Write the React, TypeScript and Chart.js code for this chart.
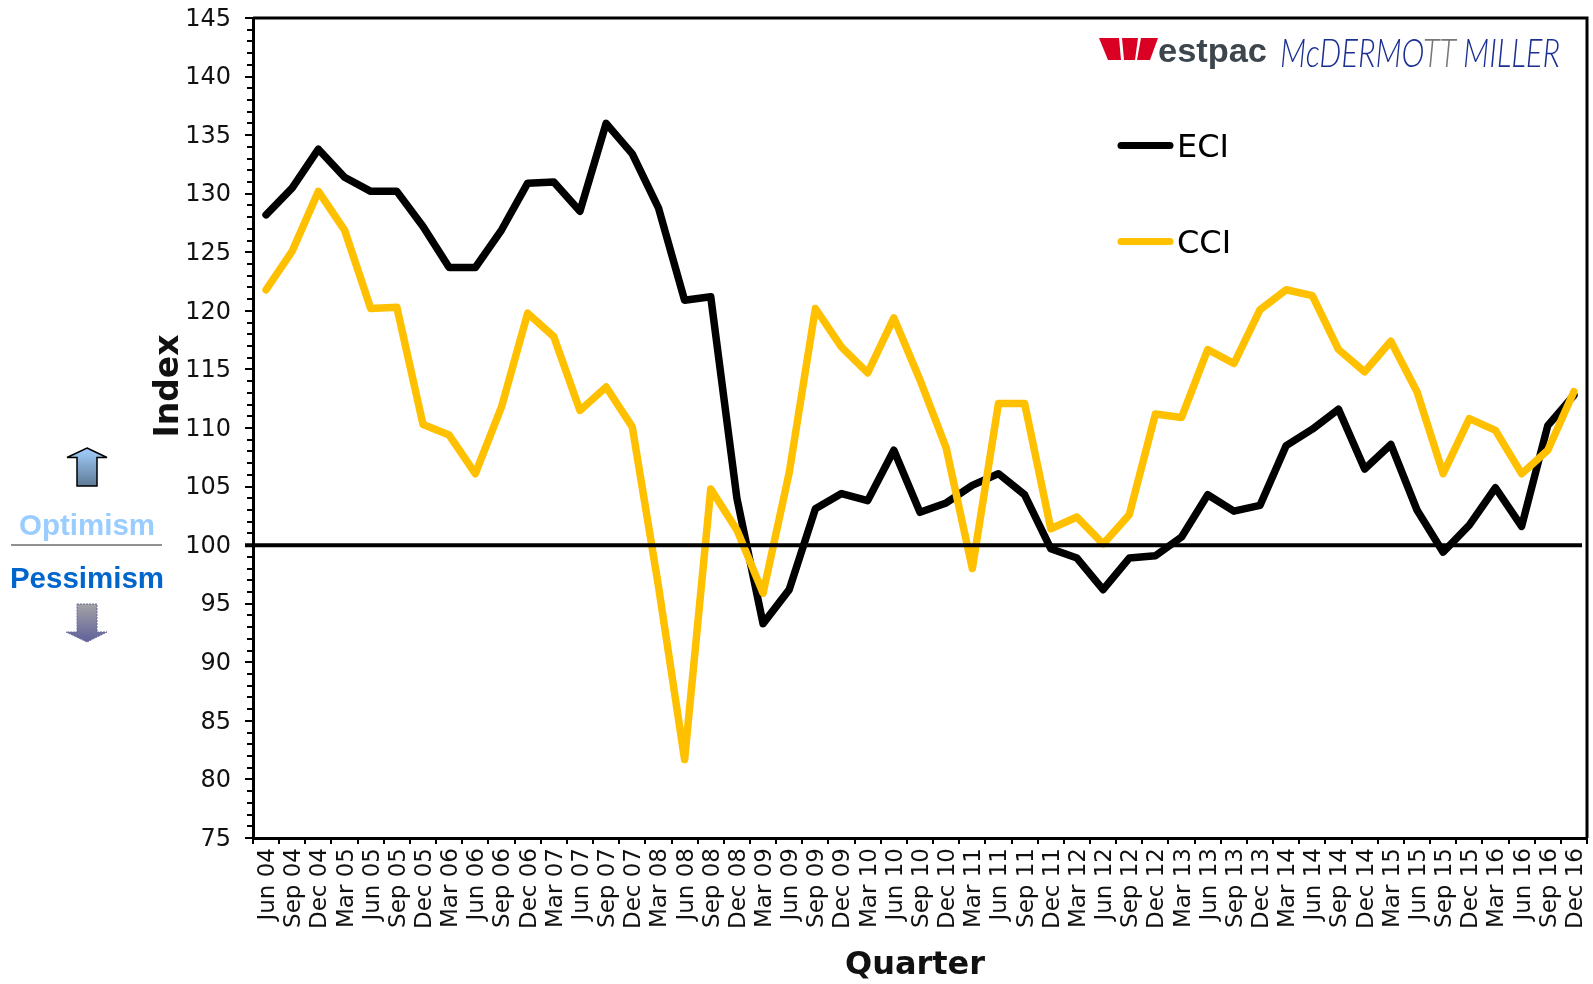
import React, { useEffect, useRef } from "react";
import { Chart, registerables } from "chart.js";

Chart.register(...registerables);

const quarters = [
  "Jun 04", "Sep 04", "Dec 04", "Mar 05", "Jun 05", "Sep 05", "Dec 05", "Mar 06", "Jun 06", "Sep 06", "Dec 06",
  "Mar 07", "Jun 07", "Sep 07", "Dec 07", "Mar 08", "Jun 08", "Sep 08", "Dec 08", "Mar 09", "Jun 09", "Sep 09",
  "Dec 09", "Mar 10", "Jun 10", "Sep 10", "Dec 10", "Mar 11", "Jun 11", "Sep 11", "Dec 11", "Mar 12", "Jun 12",
  "Sep 12", "Dec 12", "Mar 13", "Jun 13", "Sep 13", "Dec 13", "Mar 14", "Jun 14", "Sep 14", "Dec 14", "Mar 15",
  "Jun 15", "Sep 15", "Dec 15", "Mar 16", "Jun 16", "Sep 16", "Dec 16",
];
const eci = [
  128.2, 130.5, 133.8, 131.4, 130.2, 130.2, 127.2, 123.7, 123.7, 126.9, 130.9,
  131.0, 128.5, 136.0, 133.4, 128.8, 120.9, 121.2, 104.0, 93.3, 96.2, 103.1,
  104.4, 103.8, 108.1, 102.8, 103.6, 105.1, 106.1, 104.3, 99.7, 98.9, 96.2,
  98.9, 99.1, 100.7, 104.3, 102.9, 103.4, 108.5, 109.9, 111.6, 106.5, 108.6,
  103.0, 99.4, 101.7, 104.9, 101.6, 110.2, 112.8,
];
const cci = [
  121.8, 125.1, 130.2, 126.9, 120.2, 120.3, 110.3, 109.4, 106.1, 111.8, 119.8,
  117.8, 111.5, 113.5, 110.1, 96.5, 81.7, 104.8, 101.3, 95.9, 106.2, 120.2,
  116.9, 114.7, 119.4, 114.1, 108.3, 98.0, 112.1, 112.1, 101.4, 102.4, 100.1,
  102.6, 111.2, 110.9, 116.7, 115.5, 120.1, 121.8, 121.3, 116.7, 114.8, 117.4,
  113.1, 106.1, 110.8, 109.8, 106.1, 108.1, 113.1,
];
const yMin = 75;
const yMax = 145;
const baseline = 100;

const decorPlugin = {
  id: "decor",
  beforeDatasetsDraw(chart: any) {
    const { ctx, chartArea: a, scales } = chart;
    const y = scales.y;
    ctx.save();
    ctx.strokeStyle = "#000";
    ctx.lineWidth = 3;
    ctx.beginPath();
    ctx.moveTo(a.left, a.top);
    ctx.lineTo(a.right, a.top);
    ctx.lineTo(a.right, a.bottom);
    ctx.stroke();
    ctx.lineWidth = 2;
    for (let v = yMin; v <= yMax; v++) {
      if (v % 5 === 0) continue;
      const py = Math.round(y.getPixelForValue(v));
      ctx.beginPath();
      ctx.moveTo(a.left - 6, py);
      ctx.lineTo(a.left, py);
      ctx.stroke();
    }
    ctx.restore();
  },
  afterDatasetsDraw(chart: any) {
    const { ctx, chartArea: a, scales } = chart;
    const py = scales.y.getPixelForValue(baseline);
    ctx.save();
    ctx.strokeStyle = "#000";
    ctx.lineWidth = 4;
    ctx.beginPath();
    ctx.moveTo(a.left - 8, py);
    ctx.lineTo(a.right - 5, py);
    ctx.stroke();
    const rows = [145.5, 241.5];
    chart.data.datasets.forEach((ds: any, i: number) => {
      const ly = rows[i];
      ctx.strokeStyle = ds.borderColor;
      ctx.lineWidth = 7;
      ctx.lineCap = "round";
      ctx.beginPath();
      ctx.moveTo(1121, ly);
      ctx.lineTo(1170, ly);
      ctx.stroke();
      ctx.fillStyle = "#000";
      ctx.font = '32px "DejaVu Sans"';
      ctx.textBaseline = "middle";
      ctx.textAlign = "left";
      ctx.fillText(ds.label, 1177, ly + 3);
    });
    ctx.restore();
  },
};

export default function App() {
  const ref = useRef<HTMLCanvasElement | null>(null);

  useEffect(() => {
    document.body.style.margin = "0";
    const chart = new Chart(ref.current as HTMLCanvasElement, {
      type: "line",
      data: {
        labels: quarters,
        datasets: [
          { label: "ECI", data: eci, borderColor: "#000000", backgroundColor: "#000000", borderWidth: 7.5, pointRadius: 0, tension: 0, borderJoinStyle: "round", borderCapStyle: "round", order: 2 },
          { label: "CCI", data: cci, borderColor: "#FFC000", backgroundColor: "#FFC000", borderWidth: 7.5, pointRadius: 0, tension: 0, borderJoinStyle: "round", borderCapStyle: "round", order: 1 },
        ],
      },
      options: {
        animation: false,
        responsive: false,
        layout: { padding: { left: 148, top: 18, right: 6, bottom: 0 } },
        plugins: { legend: { display: false }, tooltip: { enabled: false } },
        scales: {
          x: {
            type: "category",
            offset: true,
            afterFit: (s: any) => { s.height = 146; s.paddingLeft = 0; s.paddingRight = 0; },
            border: { color: "#000", width: 3 },
            grid: { drawOnChartArea: false, offset: true, color: "#000", lineWidth: 2, tickLength: 6 },
            ticks: { autoSkip: false, minRotation: 90, maxRotation: 90, color: "#111", padding: 4, labelOffset: 2, font: { family: '"DejaVu Sans"', size: 23 } },
          },
          y: {
            min: yMin,
            max: yMax,
            afterFit: (s: any) => { s.width = 105; s.paddingTop = 0; s.paddingBottom = 0; },
            border: { color: "#000", width: 3 },
            grid: { drawOnChartArea: false, color: "#000", lineWidth: 2, tickLength: 8 },
            ticks: { stepSize: 5, color: "#111", padding: 14, labelOffset: 1.5, font: { family: '"DejaVu Sans"', size: 24 } },
          },
        },
      },
      plugins: [decorPlugin],
    } as any);
    return () => chart.destroy();
  }, []);

  return (
    <div style={{ position: "relative", width: 1593, height: 984, overflow: "hidden", background: "#fff" }}>
      <canvas ref={ref} width={1593} height={984} style={{ position: "absolute", left: 0, top: 0, display: "block" }} />
      <svg width={1593} height={984} style={{ position: "absolute", left: 0, top: 0, pointerEvents: "none" }}>
        <defs>
          <linearGradient id="up" x1="0" y1="0" x2="0" y2="1">
            <stop offset="0" stopColor="#a3d0ff" />
            <stop offset="1" stopColor="#5f7a96" />
          </linearGradient>
          <linearGradient id="down" x1="0" y1="0" x2="0" y2="1">
            <stop offset="0" stopColor="#a3a3a6" />
            <stop offset="1" stopColor="#5f6099" />
          </linearGradient>
        </defs>
        <text transform="translate(178 386) rotate(-90)" textAnchor="middle" fontFamily='"DejaVu Sans"' fontWeight="bold" fontSize={33} fill="#111">Index</text>
        <text x={915} y={974} textAnchor="middle" fontFamily='"DejaVu Sans"' fontWeight="bold" fontSize={32} fill="#111">Quarter</text>
        <polygon points="87,448 107,457.5 97,457.5 97,486 77,486 77,457.5 67,457.5" fill="url(#up)" stroke="#000" strokeWidth={1.5} />
        <polygon points="77,604 97,604 97,632 107,632 87,642 66,632 77,632" fill="url(#down)" stroke="#6a6a9a" strokeWidth={1} strokeDasharray="2 1" />
        <text x={87} y={535} textAnchor="middle" fontFamily='"Liberation Sans"' fontWeight="bold" fontSize={29.5} fill="#99CCFF">Optimism</text>
        <line x1={11} x2={162} y1={545} y2={545} stroke="#222" strokeWidth={1.2} />
        <text x={87} y={588} textAnchor="middle" fontFamily='"Liberation Sans"' fontWeight="bold" fontSize={29.5} fill="#0066CC">Pessimism</text>

        <polygon points="1099,38 1119,38 1121,60 1108,60" fill="#DA0024" />
        <polygon points="1122,38 1138,38 1135,60 1124,60" fill="#DA0024" />
        <polygon points="1141,38 1158,38 1150,60 1137,60" fill="#DA0024" />
        <text x={1158} y={62} fontFamily='"Liberation Sans"' fontWeight="bold" fontSize={34} fill="#3d464d" textLength={109} lengthAdjust="spacingAndGlyphs">estpac</text>
        <text x={1280} y={67} fontFamily='Lato,"Liberation Sans"' fontWeight={300} fontStyle="italic" fontSize={40} fill="#1a2f92" textLength={280} lengthAdjust="spacingAndGlyphs">
          McDERMO<tspan fill="#777">TT</tspan> MILLER
        </text>
      </svg>
    </div>
  );
}
